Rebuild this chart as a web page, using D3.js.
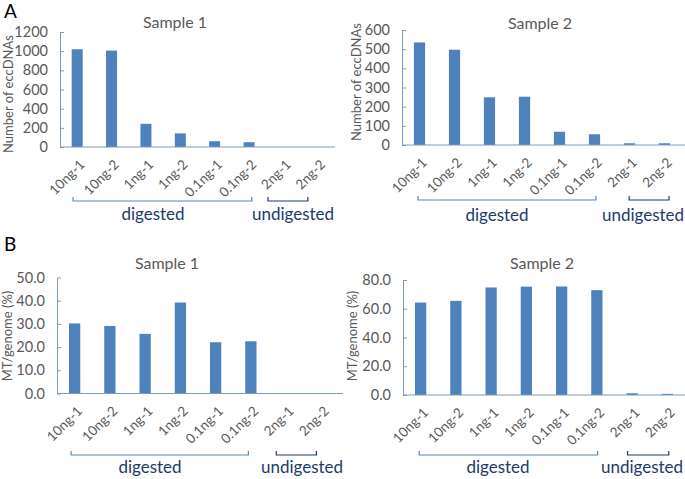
<!DOCTYPE html>
<html lang="en">
  <head>
    <meta charset="utf-8">
    <title>eccDNA samples</title>
    <script src="https://d3js.org/d3.v7.js"></script>
    <style>
      body { margin: 0; background: #fff; }
      * { font-family: Lato, "Open Sans", sans-serif; }
    </style>
  </head>
  <body>
    <script type="text/javascript">
      // categories (shared by all four panels)
      var categories = ["10ng-1", "10ng-2", "1ng-1", "1ng-2", "0.1ng-1", "0.1ng-2", "2ng-1", "2ng-2"];

      // values
      var eccSample1 = [1020, 1006, 242, 142, 60, 50, 0, 0];
      var eccSample2 = [535, 497, 249, 252, 69, 56, 9, 9];
      var mtSample1 = [30.2, 29.1, 25.7, 39.2, 22.1, 22.5, 0.2, 0.2];
      var mtSample2 = [64.3, 65.5, 74.8, 75.4, 75.5, 72.9, 1.2, 0.8];

      // y tick values
      var eccTicks1 = [0, 200, 400, 600, 800, 1000, 1200];
      var eccTicks2 = [0, 100, 200, 300, 400, 500, 600];
      var mtTicks1 = [0, 10, 20, 30, 40, 50];
      var mtTicks2 = [0, 20, 40, 60, 80];

      var w = 685, h = 479;
      var barColor = "#4f81bd";
      var axisColor = "#7f9bb8";
      var textGrey = "#595959";
      var navy = "#1f3a6e";

      var svg = d3.select("body").append("svg")
          .attr("width", w)
          .attr("height", h);

      // panel layout: plot area in px, brackets given in category-index units
      var panels = [
        {title: "Sample 1", yTitle: "Number of eccDNAs", values: eccSample1, ticks: eccTicks1, fmt: d3.format("d"),
         left: 60, top: 32, width: 275, height: 115, axisEnd: 275, titleX: 175, titleY: 28, yTitleX: 13, yTitleY: 94,
         dig: [0.38, 5.58], undig: [6.05, 7.21], bracketY: 201, digX: 153, undigX: 293, labelY: 220},
        {title: "Sample 2", yTitle: "Number of eccDNAs", values: eccSample2, ticks: eccTicks2, fmt: d3.format("d"),
         left: 402, top: 30, width: 280, height: 115, axisEnd: 283, titleX: 540, titleY: 29, yTitleX: 361, yTitleY: 82,
         dig: [0.46, 5.54], undig: [6.49, 7.63], bracketY: 200, digX: 497, undigX: 643, labelY: 221},
        {title: "Sample 1", yTitle: "MT/genome (%)", values: mtSample1, ticks: mtTicks1, fmt: d3.format(".1f"),
         left: 57, top: 277.5, width: 282, height: 116, axisEnd: 286, titleX: 167, titleY: 269, yTitleX: 12, yTitleY: 336,
         dig: [0.4, 5.43], undig: [6.22, 7.36], bracketY: 455, digX: 150, undigX: 302, labelY: 473},
        {title: "Sample 2", yTitle: "MT/genome (%)", values: mtSample2, ticks: mtTicks2, fmt: d3.format(".1f"),
         left: 403, top: 280, width: 282, height: 115, axisEnd: 282, titleX: 542, titleY: 269, yTitleX: 357, yTitleY: 336,
         dig: [0.46, 5.52], undig: [6.37, 7.54], bracketY: 455, digX: 498, undigX: 642, labelY: 473}
      ];

      // panel letters
      svg.append("text").attr("x", 4).attr("y", 18).text("A")
          .style("font-size", "19px").attr("fill", "#000");
      svg.append("text").attr("x", 4).attr("y", 251).text("B")
          .style("font-size", "19px").attr("fill", "#000");

      panels.forEach(function(p) {
        var xScale = d3.scaleBand()
            .domain(categories)
            .range([0, p.width])
            .paddingInner(0.68)
            .paddingOuter(0.34);

        var yScale = d3.scaleLinear()
            .domain([0, d3.max(p.ticks)])
            .range([p.height, 0]);

        var step = xScale.step();
        var idx = function(i) { return i * step; };

        var g = svg.append("g")
            .attr("transform", `translate(${p.left}, ${p.top})`);

        // bars
        g.selectAll("rect")
          .data(p.values)
          .enter().append("rect")
            .attr("x", (d, i) => xScale(categories[i]))
            .attr("y", d => yScale(d))
            .attr("width", xScale.bandwidth())
            .attr("height", d => p.height - yScale(d))
            .attr("fill", barColor);

        // y axis, ticks point inward
        var yAxis = d3.axisLeft(yScale)
            .tickValues(p.ticks)
            .tickFormat(p.fmt)
            .tickSizeInner(-4)
            .tickSizeOuter(0)
            .tickPadding(12);

        var ya = g.append("g").call(yAxis);
        ya.select(".domain").attr("stroke", axisColor);
        ya.selectAll("line").attr("stroke", axisColor);
        ya.selectAll("text")
            .attr("fill", textGrey)
            .style("font-size", "14.5px")
            .style("font-family", "Lato, sans-serif");

        // x axis baseline
        var xa = g.append("g")
            .attr("transform", `translate(0, ${p.height})`)
            .call(d3.axisBottom(xScale).tickSize(0).tickPadding(0));
        xa.select(".domain").remove();
        xa.append("line")
            .attr("x1", 0).attr("x2", p.axisEnd)
            .attr("stroke", axisColor);
        xa.selectAll(".tick text")
            .attr("fill", textGrey)
            .style("font-size", "13.5px")
            .style("font-family", "Lato, sans-serif")
            .attr("text-anchor", "end")
            .attr("dy", "0.35em")
            .attr("transform", "translate(5, 15) rotate(-45)");

        // titles
        svg.append("text")
            .attr("x", p.titleX).attr("y", p.titleY)
            .attr("text-anchor", "middle")
            .attr("fill", textGrey)
            .style("font-size", "16px")
            .text(p.title);

        svg.append("text")
            .attr("transform", `translate(${p.yTitleX}, ${p.yTitleY}) rotate(-90)`)
            .attr("text-anchor", "middle")
            .attr("fill", textGrey)
            .style("font-size", "13px")
            .text(p.yTitle);

        // brackets
        var bracket = function(span, color) {
          var x1 = p.left + idx(span[0]), x2 = p.left + idx(span[1]);
          var y = p.bracketY;
          svg.append("path")
              .attr("d", `M${x1},${y - 4}V${y}H${x2}V${y - 4}`)
              .attr("fill", "none")
              .attr("stroke", color)
              .attr("stroke-width", 1.2);
        };
        bracket(p.dig, "#5b83c0");
        bracket(p.undig, navy);

        svg.append("text")
            .attr("x", p.digX).attr("y", p.labelY)
            .attr("text-anchor", "middle")
            .attr("fill", navy)
            .style("font-size", "17px")
            .text("digested");
        svg.append("text")
            .attr("x", p.undigX).attr("y", p.labelY)
            .attr("text-anchor", "middle")
            .attr("fill", navy)
            .style("font-size", "17px")
            .text("undigested");
      });
    </script>
  </body>
</html>
